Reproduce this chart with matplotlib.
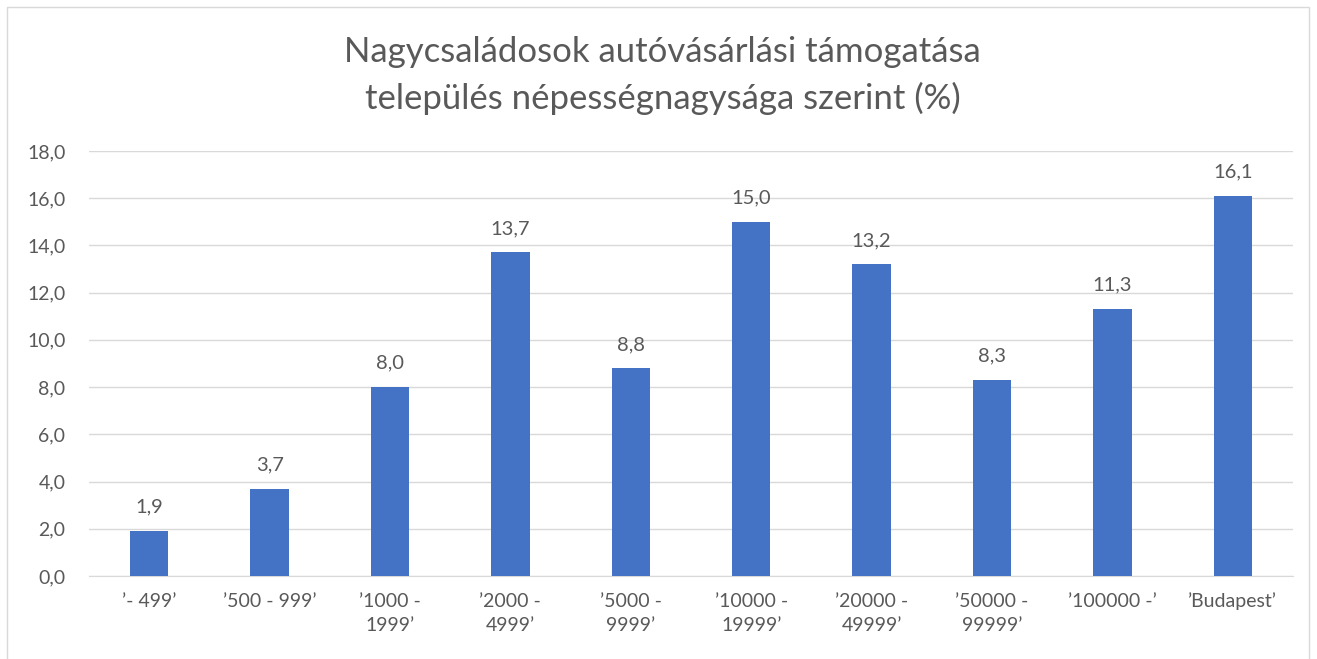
import matplotlib
matplotlib.use("Agg")
import matplotlib.pyplot as plt
from matplotlib.patches import Rectangle

categories = ["’- 499’", "’500 - 999’", "’1000 -\n1999’", "’2000 -\n4999’", "’5000 -\n9999’",
              "’10000 -\n19999’", "’20000 -\n49999’", "’50000 -\n99999’", "’100000 -’", "’Budapest’"]
values = [1.9, 3.7, 8.0, 13.7, 8.8, 15.0, 13.2, 8.3, 11.3, 16.1]
yticks = [0, 2, 4, 6, 8, 10, 12, 14, 16, 18]
title = "Nagycsaládosok autóvásárlási támogatása\ntelepülés népességnagysága szerint (%)"

plt.rcParams['font.family'] = ['Lato', 'DejaVu Sans']
txt = "#595959"

fig = plt.figure(figsize=(13.17, 6.59), dpi=100)
fig.patches.append(Rectangle((0.005, -0.01), 0.989, 1.0, transform=fig.transFigure,
                             fill=False, edgecolor="#D9D9D9", linewidth=1))
ax = fig.add_axes([0.0676, 0.126, 0.9142, 0.645])
x = list(range(len(values)))
ax.bar(x, values, width=0.32, color="#4472C4", zorder=3)
for xi, v in zip(x, values):
    ax.annotate(f"{v:.1f}".replace(".", ","), (xi, v), xytext=(0, 11), textcoords="offset points",
                ha="center", va="bottom", fontsize=14.5, color=txt)
ax.set_xlim(-0.5, len(values) - 0.5)
ax.set_ylim(0, 18)
ax.set_yticks(yticks)
ax.set_yticklabels([f"{t:.1f}".replace(".", ",") for t in yticks], fontsize=14, color=txt)
ax.set_xticks(x)
ax.set_xticklabels(categories, fontsize=14, color=txt, linespacing=1.55)
ax.tick_params(axis="both", length=0, pad=12)
ax.tick_params(axis="y", pad=17)
ax.grid(axis="y", color="#D9D9D9", linewidth=1, zorder=0)
for s in ["top", "right", "left"]:
    ax.spines[s].set_visible(False)
ax.spines["bottom"].set_color("#D9D9D9")
fig.text(0.503, 0.885, title, ha="center", va="center", fontsize=25, color=txt, linespacing=1.5)
fig.savefig("out.png", dpi=100)
